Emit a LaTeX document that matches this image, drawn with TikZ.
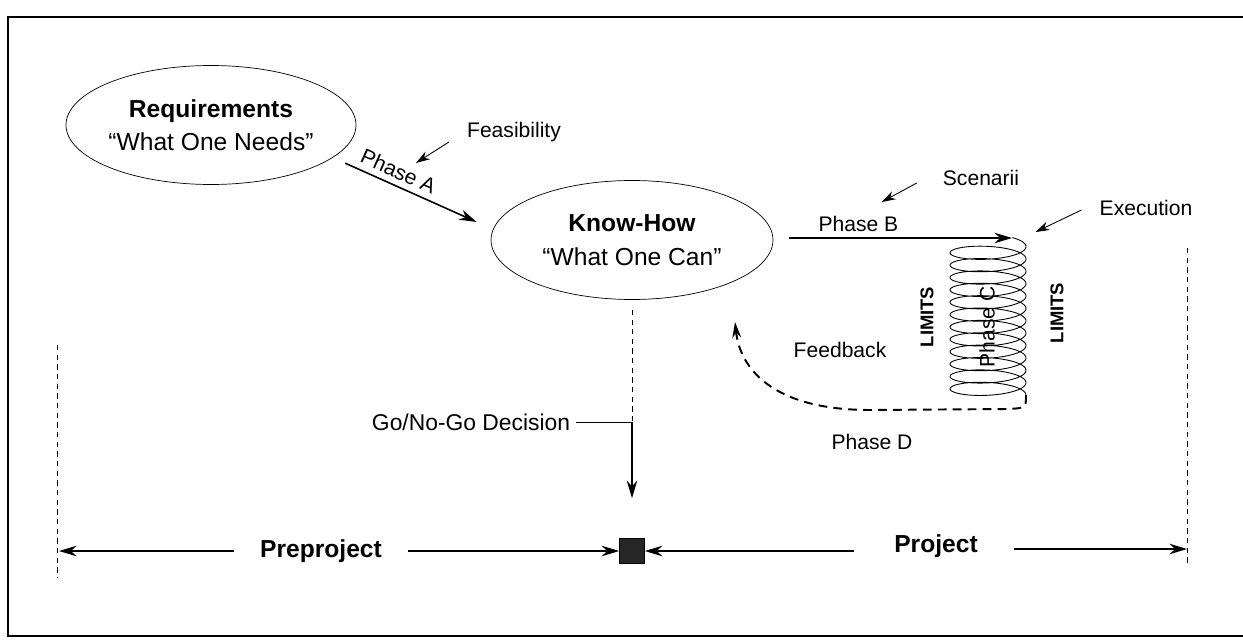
\documentclass[tikz,border=0pt]{standalone}
\usepackage{fontspec}
\setmainfont{Liberation Sans}
\usepackage{tikz}
\usetikzlibrary{shapes,arrows,arrows.meta,%
positioning,calc%
}

\tikzset{
  phase/.style={draw, ellipse, minimum width=5.64cm, minimum height=2.38cm,
    inner sep=0pt, align=center, font=\fontsize{14}{19}\selectfont},
  lbl/.style={font=\fontsize{12}{14}\selectfont},
  bar/.style={font=\fontsize{14}{16}\selectfont\bfseries},
  lim/.style={font=\fontsize{10.5}{12}\selectfont\bfseries, rotate=90},
  arr/.style={-{Stealth[length=10pt,width=6pt]}, line width=0.9pt},
  pointer/.style={-{Stealth[length=8pt,width=5pt]}, line width=0.5pt},
  guide/.style={dash pattern=on 3pt off 2.5pt, line width=0.5pt},
  loopback/.style={dash pattern=on 5pt off 3.5pt, line width=1.1pt},
}

\begin{document}
\begin{tikzpicture}[x=0.02cm, y=-0.02cm]
      \useasboundingbox (0,0) rectangle (1243,642);
      \draw[line width=1.3pt] (1243,17) -- (8,17) -- (8,636) -- (1243,636);

      \node[phase](req) at (211,125){\textbf{Requirements}\\“What One Needs”};
      \node[phase](knowhow) at (632,240){\textbf{Know-How}\\“What One Can”};

      \node[lbl](feas) at (514,132){Feasibility};
      \node[lbl](scen) at (981,178){Scenarii};
      \node[lbl](exec) at (1146,208){Execution};
      \node[lbl](feedback) at (840,350){Feedback};
      \node[lbl](phased) at (872,442){Phase D};
      \node[lim](limleft) at (927,317){LIMITS};
      \node[lim](limright) at (1057,313){LIMITS};
      \node[lbl, rotate=90](phasec) at (987,327){Phase C};
      \node[font=\fontsize{13}{15}\selectfont](gonogo) at (471,422){Go/No-Go Decision};
      \node[bar](pre) at (321,551){Preproject};
      \node[bar](proj) at (936,546){Project};
      \node[draw, fill=black!85, minimum size=0.5cm, inner sep=0pt](gate) at (632,551){};

      \coordinate (coiltop) at (1012,238);
      \coordinate (coilend) at (1026,395);
      \coordinate (fbtip) at (735,322);
      \coordinate (decide) at (632,422);
      \coordinate (leftmark) at (59,551);
      \coordinate (rightmark) at (1187,549);

      % time marks
      \draw[guide] (57,345) -- (57,577);
      \draw[guide] (1187,248) -- (1187,563);

      \draw[arr] ($(req.-16)+(15,4)$) -- ($(knowhow.west)+(-14,-18)$)
        node[lbl, pos=0.36, above, sloped]{Phase A};
      \draw[arr] ($(knowhow.east)+(16,-2)$) -- (coiltop)
        node[lbl, pos=0.31, above]{Phase B};
      \draw[line width=0.5pt] plot[domain=40:4410, samples=700, variable=\t]
        ({988+38*sin(\t)}, {243.5+\t/360*12.37-9.5*cos(\t)});
      \draw[loopback, -{Stealth[length=9pt,width=5pt]}] (coilend) .. controls (1026,408) .. (1008,409)
        -- (870,410) .. controls (772,410) and (740,368) .. (fbtip);

      \draw[pointer] ($(feas.west)+(-12,10)$) -- ++(-33,21);
      \draw[pointer] ($(scen.west)+(-20,5)$) -- ++(-35,19);
      \draw[pointer] ($(exec.west)+(-12,2)$) -- ++(-46,22);

      \draw[guide] ($(knowhow.south)+(0,10)$) -- (decide);
      \draw[line width=0.4pt] (gonogo.east) -- (decide);
      \draw[arr, line width=0.7pt] (decide) -- ($(gate.north)+(0,-40)$);

      \draw[arr] ($(pre.west)+(-20,0)$) -- (leftmark);
      \draw[arr] ($(pre.east)+(20,0)$) -- (gate.west);
      \draw[arr] ($(proj.west)+(-34,5)$) -- (gate.east);
      \draw[arr] ($(proj.east)+(30,3)$) -- (rightmark);
    \end{tikzpicture}
\end{document}
